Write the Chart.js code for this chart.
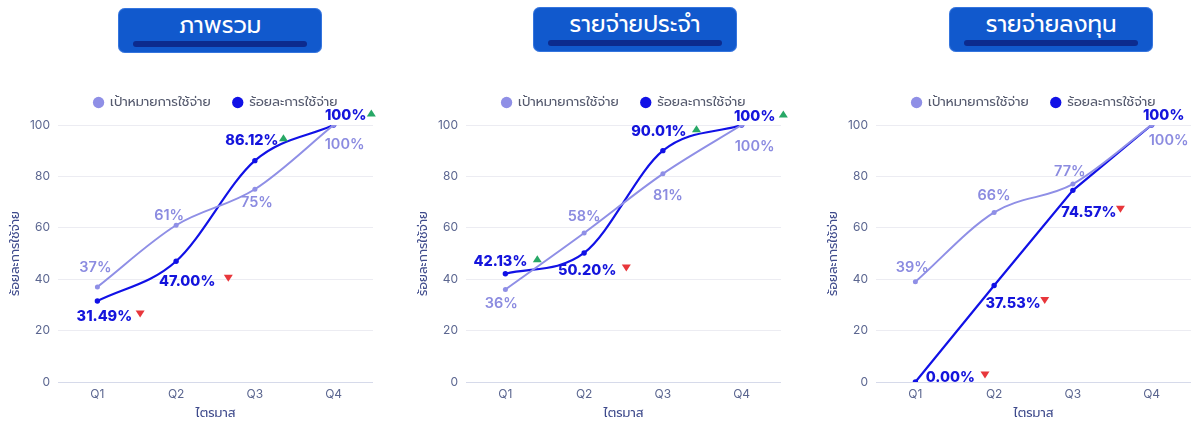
<!DOCTYPE html>
<html lang="th">
<head>
<meta charset="utf-8">
<title>ผลการใช้จ่ายงบประมาณรายไตรมาส</title>
<script src="https://cdn.jsdelivr.net/npm/chart.js@4"></script>
<style>
  html, body { margin: 0; padding: 0; background: #fff; width: 1192px; height: 423px; overflow: hidden; }
  .heading {
    position: absolute; width: 204px; height: 45px; border-radius: 7px;
    background: #1159cd; box-shadow: inset 0 0 0 1px rgba(120,170,255,0.35);
  }
  .heading span {
    position: absolute; left: 0; right: 0; top: 4px; text-align: center; color: #fff;
    font: 400 23px "Prompt", "Kanit", "Noto Sans Thai", "Noto Sans", sans-serif; line-height: 28px;
  }
  .heading i {
    position: absolute; left: 15px; right: 15px; top: 33px; height: 6px; border-radius: 3px; background: #0c2b8e;
  }
  .chartbox { position: absolute; top: 74px; width: 385px; height: 349px; }
</style>
</head>
<body>
<div id="root"></div>
<script>
// Quarterly budget disbursement: target vs actual (% cumulative)
const quarters = ['Q1', 'Q2', 'Q3', 'Q4'];
const panelTitles = ['ภาพรวม', 'รายจ่ายประจำ', 'รายจ่ายลงทุน'];
const seriesNames = ['เป้าหมายการใช้จ่าย', 'ร้อยละการใช้จ่าย'];
const xAxisTitle = 'ไตรมาส';
const yAxisTitle = 'ร้อยละการใช้จ่าย';
const yTicks = [0, 20, 40, 60, 80, 100];

const overviewTarget = [37, 61, 75, 100];
const overviewActual = [31.49, 47.00, 86.12, 100];
const overviewTrend = ['down', 'down', 'up', 'up'];

const recurringTarget = [36, 58, 81, 100];
const recurringActual = [42.13, 50.20, 90.01, 100];
const recurringTrend = ['up', 'down', 'up', 'up'];

const investTarget = [39, 66, 77, 100];
const investActual = [0.00, 37.53, 74.57, 100];
const investTrend = ['down', 'down', 'down', null];

// Colours and fonts
const TARGET_COLOR = '#8f8fe6';
const ACTUAL_COLOR = '#1111e6';
const TARGET_LABEL = '#8b8be0';
const ACTUAL_LABEL = '#1414dc';
const UP_COLOR = '#27a866';
const DOWN_COLOR = '#e8363b';
const NUM_FONT = '"Inter", "Noto Sans", sans-serif';
const THAI_FONT = '"Prompt", "Kanit", "Noto Sans Thai", "Noto Sans", sans-serif';

// Per-panel layout: where each panel sits and how its value tags are nudged from their points
const panels = [
  {
    left: 0, headLeft: 118, headTop: 8, actualTension: 'monotone',
    target: overviewTarget, actual: overviewActual, trend: overviewTrend,
    targetShift: [[-2, -19], [-7, -10], [2, 13], [11, 20]],
    actualShift: [[7, 16], [11, 20], [-3, -20], [12, -9]],
    markGap: [8, 13, 5, 5]
  },
  {
    left: 408, headLeft: 533, headTop: 7, actualTension: 'monotone',
    target: recurringTarget, actual: recurringActual, trend: recurringTrend,
    targetShift: [[-4, 14], [0, -16], [5, 22], [13, 22]],
    actualShift: [[-5, -12], [3, 18], [-4, -19], [13, -8]],
    markGap: [10, 10, 10, 8]
  },
  {
    left: 818, headLeft: 949, headTop: 7, actualTension: 'straight',
    target: investTarget, actual: investActual, trend: investTrend,
    targetShift: [[-3, -14], [0, -17], [-3, -12], [17, 16]],
    actualShift: [[35, -4], [19, 18], [16, 22], [12, -9]],
    markGap: [10, 4, 4, 0]
  }
];

function fmtTarget(v) { return Math.round(v) + '%'; }
function fmtActual(v) { return v === 100 ? '100%' : v.toFixed(2) + '%'; }

// Draws the percentage tags next to each point, plus the up/down status arrows
function makeTagPlugin(p) {
  return {
    id: 'valueTags',
    afterInit(chart) {
      // leave a little breathing room between the legend and the plot
      const lg = chart.legend;
      if (lg) {
        const fit = lg.fit;
        lg.fit = function () { fit.call(this); this.height += 6; };
      }
    },
    afterDatasetsDraw(chart) {
      const ctx = chart.ctx;
      const sets = [
        { shift: p.targetShift, font: '600 14.5px ' + NUM_FONT, color: TARGET_LABEL, fmt: fmtTarget, trend: null },
        { shift: p.actualShift, font: '800 14.5px ' + NUM_FONT, color: ACTUAL_LABEL, fmt: fmtActual, trend: p.trend }
      ];
      sets.forEach((s, di) => {
        const meta = chart.getDatasetMeta(di);
        const values = chart.data.datasets[di].data;
        meta.data.forEach((pt, j) => {
          const text = s.fmt(values[j]);
          const x = pt.x + s.shift[j][0];
          const y = pt.y + s.shift[j][1];
          ctx.save();
          ctx.font = s.font;
          ctx.fillStyle = s.color;
          ctx.textAlign = 'center';
          ctx.textBaseline = 'middle';
          ctx.fillText(text, x, y);
          const dir = s.trend ? s.trend[j] : null;
          if (dir) {
            const w = ctx.measureText(text).width;
            const cx = x + w / 2 + p.markGap[j];
            const cy = y - 3;
            ctx.beginPath();
            if (dir === 'up') {
              ctx.moveTo(cx - 4.5, cy + 3.5); ctx.lineTo(cx + 4.5, cy + 3.5); ctx.lineTo(cx, cy - 3.5);
            } else {
              ctx.moveTo(cx - 4.5, cy - 3.5); ctx.lineTo(cx + 4.5, cy - 3.5); ctx.lineTo(cx, cy + 3.5);
            }
            ctx.closePath();
            ctx.fillStyle = dir === 'up' ? UP_COLOR : DOWN_COLOR;
            ctx.fill();
          }
          ctx.restore();
        });
      });
    }
  };
}

const root = document.getElementById('root');

panels.forEach((p, idx) => {
  const head = document.createElement('div');
  head.className = 'heading';
  head.style.left = p.headLeft + 'px';
  head.style.top = p.headTop + 'px';
  head.innerHTML = '<span></span><i></i>';
  head.querySelector('span').textContent = panelTitles[idx];
  root.appendChild(head);

  const box = document.createElement('div');
  box.className = 'chartbox';
  box.style.left = p.left + 'px';
  const canvas = document.createElement('canvas');
  box.appendChild(canvas);
  root.appendChild(box);

  const actualSet = {
    label: seriesNames[1], data: p.actual,
    borderColor: ACTUAL_COLOR, backgroundColor: ACTUAL_COLOR,
    borderWidth: 2.2, pointRadius: 2.7, pointHoverRadius: 2.7,
    pointBackgroundColor: ACTUAL_COLOR, pointBorderWidth: 0,
    pointStyle: 'circle'
  };
  if (p.actualTension === 'monotone') actualSet.cubicInterpolationMode = 'monotone';
  else actualSet.tension = 0;

  new Chart(canvas, {
    type: 'line',
    data: {
      labels: quarters,
      datasets: [
        {
          label: seriesNames[0], data: p.target,
          borderColor: TARGET_COLOR, backgroundColor: TARGET_COLOR,
          borderWidth: 2, pointRadius: 2.5, pointHoverRadius: 2.5,
          pointBackgroundColor: TARGET_COLOR, pointBorderWidth: 0,
          pointStyle: 'circle', cubicInterpolationMode: 'monotone'
        },
        actualSet
      ]
    },
    options: {
      responsive: true,
      maintainAspectRatio: false,
      animation: false,
      layout: { padding: { left: 0, right: 12, top: 0, bottom: 0 } },
      plugins: {
        tooltip: { enabled: false },
        legend: {
          position: 'top',
          fullSize: false,
          labels: {
            usePointStyle: true,
            boxWidth: 10,
            boxHeight: 8,
            padding: 22,
            color: '#555a6e',
            font: { family: THAI_FONT, size: 13 },
            generateLabels(chart) {
              const items = Chart.defaults.plugins.legend.labels.generateLabels(chart);
              items.forEach(it => { it.lineWidth = 0; it.pointStyle = 'circle'; });
              return items;
            }
          }
        }
      },
      scales: {
        x: {
          offset: true,
          grid: { display: false, drawTicks: false },
          border: { display: false },
          ticks: { color: '#5b6690', padding: 5, font: { family: NUM_FONT, size: 12 } },
          title: {
            display: true, text: xAxisTitle, color: '#3f4b8c',
            font: { family: THAI_FONT, size: 12.5 }, padding: { top: 2, bottom: 2 }
          },
          afterFit(s) { s.height = 41; }
        },
        y: {
          min: 0, max: 100,
          afterBuildTicks(s) { s.ticks = yTicks.map(v => ({ value: v })); },
          grid: {
            drawTicks: false,
            color: ctx => (ctx.tick && ctx.tick.value === 0) ? '#d6daea' : '#ececf2',
            lineWidth: 1
          },
          border: { display: false },
          ticks: { color: '#5b6690', padding: 8, font: { family: NUM_FONT, size: 12 } },
          title: {
            display: true, text: yAxisTitle, color: '#3f4b8c',
            font: { family: THAI_FONT, size: 12.5 }, padding: { top: 8, bottom: 0 }
          },
          afterFit(s) { s.width = 58; }
        }
      }
    },
    plugins: [makeTagPlugin(p)]
  });
});
</script>
</body>
</html>
